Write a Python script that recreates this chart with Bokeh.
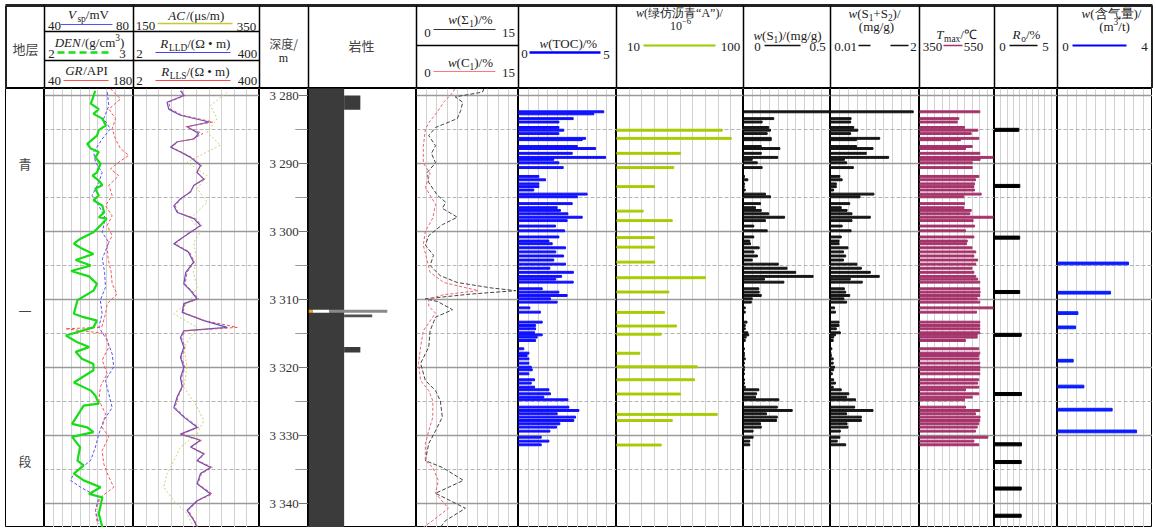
import numpy as np
from bokeh.plotting import figure
from bokeh.layouts import row, column
from bokeh.models import Range1d, Grid, FixedTicker, LogScale, Spacer
from bokeh.core.properties import value
from bokeh.embed import file_html
from bokeh.resources import INLINE

SERIF = "Liberation Serif"
CJK = "Noto Sans CJK SC"

# ---------------- data ----------------
# track 1
vsp_depth = [3279.5, 3281.5, 3283.4, 3284.9, 3286.4, 3288.3, 3289.8, 3291.3, 3292.8, 3294.7, 3296.2, 3298.1, 3300.1, 3301.6, 3304.0, 3306.0, 3308.2, 3310.1, 3312.1, 3314.1, 3316.0, 3318.0, 3319.9, 3321.9, 3323.9, 3325.9, 3327.8, 3329.8, 3331.7, 3333.7, 3335.6, 3336.6, 3337.6, 3339.1, 3341.0, 3343.0]
vsp = [68.2, 68.9, 66.6, 69.6, 65.9, 62.1, 62.9, 65.9, 64.4, 61.4, 64.4, 67.4, 65.9, 68.9, 66.0, 67.0, 67.4, 65.1, 65.9, 64.4, 68.2, 70.4, 71.1, 67.4, 68.9, 70.4, 66.6, 64.4, 62.9, 60.7, 53.2, 51.7, 56.2, 64.4, 62.9, 64.4]

den_depth = [3279.3, 3280.5, 3281.2, 3282.0, 3282.7, 3283.4, 3284.4, 3285.1, 3285.9, 3287.1, 3287.8, 3288.3, 3289.1, 3290.0, 3291.3, 3291.8, 3292.5, 3293.2, 3293.7, 3294.7, 3295.4, 3296.2, 3297.2, 3297.9, 3298.1, 3299.1, 3300.1, 3301.1, 3301.8, 3302.5, 3303.3, 3304.2, 3305.0, 3305.8, 3306.6, 3307.7, 3308.7, 3310.1, 3312.1, 3312.6, 3313.1, 3314.1, 3315.3, 3316.3, 3317.0, 3317.7, 3318.7, 3319.5, 3320.4, 3322.2, 3323.4, 3324.1, 3325.3, 3325.6, 3328.3, 3328.8, 3329.5, 3330.2, 3331.7, 3333.7, 3334.4, 3335.6, 3336.6, 3337.6, 3338.6, 3339.1, 3341.5, 3343.5]
den = [2.57, 2.54, 2.52, 2.61, 2.55, 2.65, 2.69, 2.61, 2.59, 2.48, 2.52, 2.61, 2.57, 2.63, 2.59, 2.54, 2.61, 2.65, 2.57, 2.61, 2.55, 2.65, 2.67, 2.61, 2.70, 2.63, 2.55, 2.40, 2.33, 2.42, 2.55, 2.35, 2.52, 2.30, 2.50, 2.59, 2.55, 2.37, 2.33, 2.44, 2.59, 2.55, 2.24, 2.37, 2.50, 2.35, 2.42, 2.55, 2.55, 2.33, 2.52, 2.57, 2.61, 2.44, 2.31, 2.48, 2.55, 2.31, 2.40, 2.37, 2.44, 2.33, 2.44, 2.63, 2.50, 2.65, 2.61, 2.65]

gr_depth = [3279.0, 3280.5, 3282.0, 3283.4, 3284.9, 3286.4, 3287.8, 3288.8, 3289.8, 3290.8, 3291.8, 3293.2, 3294.7, 3296.2, 3297.7, 3299.1, 3300.6, 3302.1, 3304.0, 3306.0, 3307.7, 3309.2, 3310.6, 3312.1, 3314.1, 3314.3, 3315.0, 3317.0, 3318.9, 3320.9, 3322.8, 3324.8, 3326.8, 3328.8, 3330.2, 3332.2, 3334.2, 3336.1, 3337.6, 3339.1, 3341.0, 3343.0]
gr = [143.8, 159.5, 141.2, 151.7, 146.4, 151.7, 159.5, 172.6, 156.9, 143.8, 156.9, 141.2, 146.4, 136.0, 146.4, 138.6, 146.4, 138.6, 140.0, 145.0, 146.4, 154.3, 138.6, 136.0, 130.0, 73.0, 136.0, 141.2, 130.7, 138.6, 128.0, 125.4, 136.0, 130.7, 141.2, 130.7, 133.3, 141.2, 149.0, 128.0, 120.2, 123.0]

# track 2
ac_depth = [3279.5, 3281.5, 3283.4, 3285.4, 3287.3, 3289.8, 3291.8, 3293.7, 3295.7, 3298.1, 3300.1, 3301.6, 3304.0, 3306.0, 3308.2, 3310.1, 3312.1, 3314.1, 3317.0, 3319.9, 3322.9, 3325.8, 3327.8, 3329.8, 3331.7, 3333.7, 3335.6, 3337.6, 3339.6, 3341.5, 3343.5]
ac = [298.7, 272.0, 282.8, 267.0, 288.0, 235.0, 267.0, 251.0, 267.0, 240.5, 256.0, 245.7, 250.0, 245.0, 251.0, 240.5, 214.0, 251.0, 230.0, 235.0, 230.0, 251.0, 261.6, 251.0, 224.6, 214.0, 203.5, 198.0, 214.0, 235.0, 245.7]

rlld_depth = [3279.3, 3280.0, 3281.0, 3282.0, 3282.9, 3283.9, 3284.6, 3285.6, 3286.4, 3286.8, 3287.6, 3288.3, 3289.1, 3290.3, 3291.3, 3292.3, 3293.2, 3294.2, 3295.2, 3296.2, 3297.2, 3298.1, 3299.1, 3300.1, 3301.1, 3301.8, 3303.0, 3304.5, 3306.0, 3307.7, 3308.7, 3309.9, 3310.6, 3311.9, 3313.1, 3314.1, 3314.6, 3315.6, 3317.0, 3318.5, 3320.0, 3321.5, 3322.8, 3324.3, 3325.9, 3327.3, 3328.8, 3329.8, 3330.7, 3331.7, 3332.7, 3333.7, 3334.7, 3335.6, 3337.1, 3338.6, 3339.6, 3341.0, 3342.5, 3343.5]
rlld = [14.4, 16.6, 8.2, 8.8, 14.4, 48.0, 19.1, 31.0, 25.3, 12.6, 9.5, 14.4, 22.0, 33.4, 29.0, 38.4, 25.3, 22.0, 14.4, 10.9, 12.6, 25.3, 33.4, 22.0, 14.4, 10.9, 20.0, 25.0, 18.0, 16.6, 22.0, 29.0, 16.6, 15.5, 38.4, 103.0, 16.6, 14.4, 16.6, 14.4, 16.6, 14.4, 15.5, 12.6, 10.9, 16.6, 29.0, 14.4, 33.4, 22.0, 38.4, 29.0, 51.0, 33.4, 29.0, 51.0, 29.0, 19.1, 25.3, 29.0]
rlls = [15.0, 17.5, 8.8, 9.5, 15.5, 56.0, 18.0, 37.0, 24.0, 13.0, 10.0, 15.0, 23.0, 35.0, 28.0, 40.0, 26.0, 21.0, 15.0, 11.5, 13.0, 27.0, 35.0, 21.0, 15.0, 11.5, 21.0, 26.0, 19.0, 17.5, 23.0, 31.0, 17.5, 16.0, 40.0, 157.0, 17.5, 15.0, 17.5, 15.0, 17.5, 15.0, 16.0, 13.0, 11.5, 17.5, 31.0, 15.0, 35.0, 23.0, 40.0, 30.0, 55.0, 35.0, 30.0, 55.0, 30.0, 20.0, 26.0, 30.0]

# gas logging
sig_depth = [3279.0, 3279.5, 3280.2, 3281.0, 3282.2, 3283.4, 3284.7, 3285.9, 3287.4, 3288.5, 3289.9, 3291.3, 3292.8, 3294.7, 3295.7, 3296.6, 3297.9, 3299.0, 3300.6, 3302.0, 3303.5, 3305.0, 3306.5, 3307.5, 3308.3, 3308.7, 3309.2, 3309.9, 3310.3, 3311.5, 3312.6, 3314.6, 3317.0, 3319.4, 3321.9, 3323.4, 3324.9, 3327.3, 3329.3, 3331.2, 3333.7, 3334.7, 3336.6, 3338.5, 3340.7, 3342.5, 3343.5]
sig = [9.9, 9.7, 5.7, 6.8, 6.5, 6.0, 2.8, 1.8, 2.8, 2.2, 2.8, 1.6, 1.8, 3.1, 4.3, 3.8, 6.0, 3.8, 1.8, 1.3, 2.5, 2.0, 3.5, 6.0, 11.0, 14.6, 8.0, 1.3, 3.1, 5.3, 2.8, 2.0, 1.8, 0.6, 1.3, 2.8, 3.5, 3.8, 2.8, 1.8, 1.3, 3.8, 6.9, 2.8, 7.2, 4.3, 3.5]
c1_depth = [3279.0, 3279.5, 3281.0, 3282.5, 3284.0, 3285.0, 3287.5, 3289.9, 3291.5, 3293.5, 3296.0, 3298.0, 3300.0, 3302.0, 3304.0, 3306.0, 3307.5, 3308.7, 3309.3, 3309.9, 3311.0, 3312.0, 3314.6, 3317.0, 3319.4, 3321.9, 3323.4, 3324.9, 3327.3, 3329.3, 3331.2, 3333.7, 3334.7, 3336.6, 3338.5, 3340.7, 3342.5, 3343.5]
c1 = [5.6, 5.4, 4.0, 3.0, 1.8, 1.3, 1.0, 1.0, 2.0, 1.3, 2.8, 2.4, 1.3, 1.0, 1.5, 2.0, 4.0, 9.1, 4.0, 1.8, 1.8, 2.8, 1.0, 0.6, 0.3, 0.6, 1.8, 2.4, 2.4, 1.8, 1.3, 1.3, 2.4, 3.2, 2.8, 4.7, 2.4, 1.0]

# core samples (shared depths)
nan = float("nan")
sample_depth = [3282.4, 3282.7, 3283.4, 3283.9, 3284.7, 3285.1, 3285.6, 3286.3, 3286.5, 3287.5, 3287.8, 3288.5, 3289.1, 3289.4, 3289.9, 3290.6, 3291.9, 3292.4, 3293.0, 3293.4, 3293.9, 3294.5, 3294.9, 3295.9, 3296.5, 3296.9, 3297.4, 3297.9, 3298.4, 3299.2, 3299.9, 3300.8, 3301.4, 3301.8,
                3302.4, 3303.0, 3303.6, 3304.2, 3304.8, 3305.4, 3306.0, 3306.6, 3307.0,
                3307.45, 3308.43, 3308.92, 3309.41, 3309.90, 3310.39, 3311.23, 3311.86, 3313.33, 3313.82, 3314.31, 3314.90, 3315.20, 3315.54, 3316.03, 3317.25, 3317.89, 3318.24, 3318.73, 3319.36, 3319.95, 3320.34, 3320.93, 3321.81, 3322.30, 3322.89, 3323.28, 3323.87, 3324.36, 3324.75, 3325.83, 3326.32, 3326.81, 3327.30, 3327.79, 3328.28, 3328.77, 3329.36, 3330.25, 3330.83, 3331.37]
toc = [4.35, 3.84, 2.79, 2.06, 2.06, 2.31, 2.06, 3.42, 3.25, 3.0, 3.93, 2.74, 4.44, 1.80, 2.06, 2.28, 1.04, 1.38, 1.04, 1.04, 0.78, 3.5, 3.0, 2.74, 1.97, 2.14, 2.52, 3.25, 2.48, 1.89, 2.35, 2.06, 1.55, 1.72,
       2.4, 1.9, 2.3, 1.8, 2.4, 1.6, 2.8, 2.2, 1.9,
       2.79, 1.21, 2.06, 2.48, 1.63, 1.97, 0.58, 1.12, 1.21, 0.87, 0.87, 0.82, 1.21, 0.95, 0.87, 0.27, 0.53, 0.44, 0.53, 0.53, 0.65, 0.70, 0.53, 0.82, 0.65, 0.82, 1.55, 1.63, 1.29, 2.52, 2.57, 3.08, 1.97, 2.91, 2.82, 2.11, 1.94, 1.60, 1.16, 1.55, 1.16]
s1 = [0.5, nan, 0.174, 0.107, 0.145, 0.155, 0.136, 0.159, 0.159, 0.102, 0.209, 0.102, 0.197, 0.05, 0.079, 0.107, 0.006, 0.025, 0.006, 0.004, 0.01, 0.126, 0.155, 0.098, 0.069, 0.102, 0.145, 0.236, 0.126, 0.059, 0.136, 0.059, 0.036, 0.04,
      0.09, 0.06, 0.08, 0.05, 0.2, 0.25, 0.3, 0.4, 0.12,
      0.232, 0.088, 0.09, 0.102, 0.05, 0.045, 0.01, 0.01, 0.02, 0.01, 0.01, 0.025, 0.03, 0.015, 0.01, 0.005, 0.005, 0.005, 0.01, 0.005, 0.005, 0.005, 0.005, 0.005, 0.005, 0.01, 0.088, 0.075, 0.069, 0.203, 0.194, 0.28, 0.132, 0.194, 0.19, 0.098, 0.102, 0.055, 0.055, 0.036, 0.036]
s1s2 = [1.86, nan, 0.47, 0.46, 0.53, 0.62, 0.46, 1.11, 0.59, 0.59, 0.96, 0.81, 1.31, 0.32, 0.37, 0.52, 0.22, 0.27, 0.14, 0.14, 0.08, 0.98, 0.67, 0.44, 0.25, 0.38, 0.49, 0.90, 0.49, 0.27, 0.47, 0.25, 0.20, 0.20,
        0.4, 0.3, 0.35, 0.3, 0.6, 0.7, 0.9, 1.1, 0.45,
        0.72, 0.32, 0.35, 0.44, 0.31, 0.37, 0.10, 0.12, 0.20, 0.20, 0.14, 0.23, 0.12, 0.08, 0.07, 0.04, 0.02, 0.03, 0.07, 0.07, 0.10, 0.08, 0.05, 0.08, 0.12, 0.07, 0.25, 0.42, 0.37, 0.57, 0.55, 0.96, 0.37, 0.70, 0.70, 0.38, 0.40, 0.23, 0.22, 0.16, 0.35]
tmax = [510.8, nan, 454.9, 450.5, 470.0, 505.5, 487.9, 508.2, 459.3, 490.5, 472.7, 510.8, 546.5, 511.5, 490.5, 490.5, 508.2, 499.3, 496.8, 495.0, 496.8, 514.5, 468.2, 470.0, 468.2, 487.9, 484.3, 546.5, 493.0, 496.8, 472.7, 495.0, 477.3, 475.5,
        490.0, 500.0, 495.0, 505.0, 500.0, 490.0, 495.0, 500.0, 505.0,
        510.8, 510.8, 511.5, 510.8, 503.8, 510.8, 546.5, 502.0, 510.8, 510.8, 510.8, 510.8, 503.8, 503.8, 472.7, 508.0, 510.8, 508.0, 508.0, 510.8, 510.8, 510.8, 510.8, 508.0, 505.0, 508.0, 472.7, 508.0, 490.5, 470.0, 472.7, 510.8, 499.3, 511.5, 510.8, 508.0, 503.8, 499.3, 532.2, 495.0, 508.0]

a_depth = [3285.1, 3286.3, 3288.5, 3290.6, 3293.4, 3297.0, 3298.4, 3300.9, 3302.3, 3304.5, 3306.8, 3308.9, 3311.9, 3313.9, 3315.1, 3317.9, 3319.9, 3321.8, 3323.9, 3326.9, 3327.8, 3331.4]
bitumen_a = [84.9, 91.3, 55.4, 50.6, 36.9, 28.9, 49.5, 36.9, 37.0, 37.0, 73.0, 47.1, 44.0, 52.5, 41.7, 26.5, 67.2, 65.3, 55.4, 81.4, 49.5, 41.7]

ro_depth = [3285.05, 3293.3, 3300.9, 3308.9, 3315.2, 3323.9, 3331.3, 3333.9, 3337.8, 3341.8]
ro = [1.93, 2.01, 2.0, 2.0, 2.12, 2.14, 2.14, 2.12, 2.12, 2.12]

gas_depth = [3304.7, 3309.0, 3312.0, 3314.1, 3319.0, 3322.8, 3326.2, 3329.4]
gas = [2.99, 2.23, 0.86, 0.76, 0.66, 1.11, 2.30, 3.33]

# lithology intervals (fraction of track width)
litho_top = [3278.9, 3280.0, 3311.5, 3311.5, 3311.5, 3312.2, 3317.0]
litho_bot = [3343.6, 3282.1, 3311.95, 3311.95, 3311.95, 3312.6, 3317.8]
litho_left = [0.0, 0.33, 0.0, 0.04, 0.19, 0.33, 0.33]
litho_right = [0.33, 0.48, 0.04, 0.19, 0.73, 0.59, 0.48]
litho_color = ["#3b3b3b", "#3b3b3b", "#f0a020", "#ffffff", "#8a8a8a", "#505050", "#3b3b3b"]

strat_text = ["青", "一", "段"]
strat_depth = [3290.0, 3311.6, 3333.7]

depth_major = [3280, 3290, 3300, 3310, 3320, 3330, 3340]
depth_labels = ["3 280", "3 290", "3 300", "3 310", "3 320", "3 330", "3 340"]
depth_minor = [3285, 3295, 3305, 3315, 3325, 3335]

# ---------------- layout ----------------
H = 439
yr = Range1d(start=3343.53, end=3278.97)


def make(width, xr, grid=True, **kw):
    p = figure(width=width, height=H, x_range=xr, y_range=yr, toolbar_location=None,
               output_backend="svg", min_border=0, x_axis_location=None, y_axis_location=None, **kw)
    p.grid.visible = False
    p.outline_line_color = "black"
    p.outline_line_width = 1
    p.background_fill_color = "white"
    p.border_fill_color = "white"
    if grid:
        xs = list(np.linspace(xr.start, xr.end, 11)[1:-1])
        p.add_layout(Grid(dimension=0, ticker=FixedTicker(ticks=xs), grid_line_color="#d2d2d2", grid_line_width=1))
        p.add_layout(Grid(dimension=1, ticker=FixedTicker(ticks=depth_minor), grid_line_color="#b4b4b4",
                          grid_line_width=1, grid_line_dash="4 2"))
        p.add_layout(Grid(dimension=1, ticker=FixedTicker(ticks=depth_major), grid_line_color="#9a9a9a",
                          grid_line_width=1.5))
    return p


# stratigraphy column
p_strat = make(39, Range1d(0, 1), grid=False)
p_strat.text(x=[0.5] * len(strat_text), y=strat_depth, text=strat_text, text_font=value(CJK),
             text_font_size="13px", text_align="center", text_baseline="middle", text_color="#444444")

# track 1
p1 = make(89, Range1d(40, 80))
p1.extra_x_ranges = {"den": Range1d(2, 3), "gr": Range1d(40, 180)}
p1.line(vsp, vsp_depth, line_color="#5050ff", line_width=1, line_dash="3 2")
p1.line(gr, gr_depth, line_color="#ff5050", line_width=1, line_dash="3 2", x_range_name="gr")
p1.line(den, den_depth, line_color="#16dd16", line_width=2.2, x_range_name="den")

# track 2
p2 = make(126, Range1d(150, 350))
p2.extra_x_ranges = {"r": Range1d(2, 400)}
p2.extra_x_scales = {"r": LogScale()}
p2.line(ac, ac_depth, line_color="#c8d27a", line_width=1, line_dash="2 2")
p2.line(rlld, rlld_depth, line_color="#5a4fd0", line_width=1.2, x_range_name="r")
p2.line(rlls, rlld_depth, line_color="#e85050", line_width=1, line_dash="3 2", x_range_name="r")

# depth column
p_depth = make(49, Range1d(0, 1), grid=False)
p_depth.text(x=[0.8] * len(depth_major), y=depth_major, text=depth_labels, text_font=value(SERIF),
             text_font_size="13px", text_align="right", text_baseline="middle", text_color="#333333")
p_depth.segment(x0=[0.8] * len(depth_major), x1=[1.0] * len(depth_major), y0=depth_major, y1=depth_major,
                line_color="#777777", line_width=1)
p_depth.segment(x0=[0.73] * len(depth_minor), x1=[0.98] * len(depth_minor), y0=depth_minor, y1=depth_minor,
                line_color="#999999", line_width=1)

# lithology
p_lith = make(108, Range1d(0, 1), grid=False)
p_lith.quad(left=litho_left, right=litho_right, top=litho_top, bottom=litho_bot, fill_color=litho_color,
            line_color=None)

# gas logging
p_gas = make(102, Range1d(0, 15))
p_gas.line(sig, sig_depth, line_color="#444444", line_width=1, line_dash="4 2")
p_gas.line(c1, c1_depth, line_color="#f06070", line_width=1, line_dash="3 2")

BH = 0.28
p_toc = make(98, Range1d(0, 5))
p_toc.hbar(y=sample_depth, left=0, right=toc, height=BH, color="#1010ff")

p_a = make(127, Range1d(10, 100))
p_a.hbar(y=a_depth, left=10, right=bitumen_a, height=BH, color="#a6cc00")

p_s1 = make(87, Range1d(0, 0.5))
p_s1.hbar(y=sample_depth, left=0, right=s1, height=BH, color="#151515")

p_s12 = make(89, Range1d(0.01, 2))
p_s12.hbar(y=sample_depth, left=0.01, right=s1s2, height=BH, color="#151515")

p_tmax = make(75, Range1d(350, 550))
p_tmax.hbar(y=sample_depth, left=350, right=tmax, height=BH, color="#a5336a")

p_ro = make(63, Range1d(0, 5))
p_ro.hbar(y=ro_depth, left=0, right=ro, height=0.45, color="#000000")

p_gc = make(95, Range1d(0, 4))
p_gc.hbar(y=gas_depth, left=0, right=gas, height=0.4, color="#0a1eff")

tracks = row(Spacer(width=5, height=H), p_strat, p1, p2, p_depth, p_lith, p_gas, p_toc, p_a, p_s1, p_s12,
             p_tmax, p_ro, p_gc, Spacer(width=4, height=H))

bottom = figure(width=1147, height=3, toolbar_location=None, output_backend="svg", min_border=0,
                x_axis_location=None, y_axis_location=None, x_range=Range1d(0, 1), y_range=Range1d(0, 1))
bottom.grid.visible = False
bottom.outline_line_color = None
bottom.background_fill_color = "#222222"
bottom.border_fill_color = "#222222"
bottom_row = row(Spacer(width=5, height=3), bottom, Spacer(width=4, height=3))

# ---------------- header ----------------
hdr = figure(width=1156, height=88, x_range=Range1d(0, 1156), y_range=Range1d(88, 0), toolbar_location=None,
             output_backend="svg", min_border=0, x_axis_location=None, y_axis_location=None)
hdr.grid.visible = False
hdr.outline_line_color = None
hdr.background_fill_color = "white"
hdr.border_fill_color = "white"

TW = {' ': .25, '(': .333, ')': .333, '/': .278, '%': .833, '+': .564, '.': .25, '•': .35, '·': .25, '−': .564,
      '-': .333, 'A': .722, 'C': .667, 'D': .722, 'E': .611, 'G': .722, 'I': .333, 'L': .611, 'N': .722,
      'O': .722, 'P': .556, 'R': .667, 'S': .556, 'T': .611, 'V': .722, 'a': .444, 'c': .444, 'g': .5,
      'm': .778, 'o': .5, 'p': .5, 's': .389, 't': .278, 'x': .5, 'w': .667, 'μ': .576, 'Ω': .768,
      'Σ': .6, '℃': 1.0, '“': 0.45, '”': 0.45}


def tw(s, size):
    return sum(TW.get(c, 0.5 if ord(c) < 128 else 1.0) for c in s) * size


def rich(parts, cx, cy, size=13, color="#222222"):
    sizes, widths = [], []
    for t, k in parts:
        s = size * 0.72 if k in ("sub", "sup") else size
        sizes.append(s)
        widths.append(tw(t, s))
    x = cx - sum(widths) / 2
    for (t, k), s, w in zip(parts, sizes, widths):
        dy = size * 0.32 if k == "sub" else (-size * 0.38 if k == "sup" else 0)
        hdr.text(x=[x], y=[cy + dy], text=[t], text_font=value(SERIF), text_font_size=f"{s:.1f}px",
                 text_font_style="italic" if k == "i" else "normal", text_align="left",
                 text_baseline="middle", text_color=color)
        x += w


def lab(t, cx, cy, size=13, font=SERIF, color="#222222"):
    hdr.text(x=[cx], y=[cy], text=[t], text_font=value(font), text_font_size=f"{size}px", text_align="center",
             text_baseline="middle", text_color=color)


def sample(x0, x1, y, color, width=1.2, dash="solid"):
    hdr.segment(x0=[x0], x1=[x1], y0=[y], y1=[y], line_color=color, line_width=width, line_dash=dash)


# frame and separators
hdr.segment(x0=[5], x1=[1152], y0=[5], y1=[5], line_color="#222222", line_width=3)
hdr.segment(x0=[5], x1=[1152], y0=[87.5], y1=[87.5], line_color="black", line_width=2)
hdr.segment(x0=[5.5, 1151.5], x1=[5.5, 1151.5], y0=[5, 5], y1=[88, 88], line_color="#222222", line_width=2)
for xv in [44, 133, 259, 308, 416, 518, 616, 743, 830, 919, 994, 1057]:
    hdr.segment(x0=[xv], x1=[xv], y0=[5], y1=[88], line_color="black", line_width=1.5)
for yv in [31, 60]:
    hdr.segment(x0=[44], x1=[259], y0=[yv], y1=[yv], line_color="black", line_width=1.5)
hdr.segment(x0=[416], x1=[518], y0=[45], y1=[45], line_color="black", line_width=1.5)

lab("地层", 25, 48, 13, CJK, "#444444")
# track 1 header
rich([("V", "i"), ("sp", "sub"), ("/mV", "n")], 88, 14)
lab("40", 54, 25); lab("80", 122, 25); sample(60, 112, 24, "#5050ff")
rich([("DEN", "i"), ("/(g/cm", "n"), ("3", "sup"), (")", "n")], 89, 42)
lab("2", 51, 53); lab("3", 122, 53); sample(57, 110, 52, "#16dd16", 2.5, "7 4")
rich([("GR", "i"), ("/API", "n")], 86, 70)
lab("40", 54, 80); lab("180", 122, 80); sample(63, 108, 80, "#ff5050")
# track 2 header
rich([("AC", "i"), ("/(μs/m)", "n")], 196, 15)
lab("150", 145, 25); lab("350", 246, 26); sample(157, 232, 23, "#c8c832", 1.5)
rich([("R", "i"), ("LLD", "sub"), ("/(Ω • m)", "n")], 195, 43)
lab("2", 139, 53); lab("400", 247, 53); sample(155, 230, 52, "#4444ee")
rich([("R", "i"), ("LLS", "sub"), ("/(Ω • m)", "n")], 195, 71)
lab("2", 139, 80); lab("400", 247, 80); sample(155, 230, 80, "#ff4444")
# depth, lithology
lab("深度/", 283, 43, 12, CJK, "#444444")
lab("m", 283, 57, 12)
lab("岩性", 361, 45, 13, CJK, "#444444")
# gas logging
rich([("w", "i"), ("(Σ", "n"), ("1", "sub"), (")/%", "n")], 470, 19)
lab("0", 427, 32); lab("15", 508, 32); sample(433, 495, 29, "#333333")
rich([("w", "i"), ("(C", "n"), ("1", "sub"), (")/%", "n")], 470, 62)
lab("0", 427, 72); lab("15", 508, 72); sample(433, 495, 71, "#ff7777")
# TOC
rich([("w", "i"), ("(TOC)/%", "n")], 568, 43)
lab("0", 524, 53); lab("5", 606, 54); sample(529, 600, 52, "#0000ff", 2.5)
# chloroform bitumen A
rich([("w", "i"), ("(绿仿沥青“A”)/", "n")], 679, 12, 12)
rich([("10", "n"), ("−6", "sup")], 680, 25, 12)
lab("10", 633, 46); lab("100", 730, 46); sample(643, 715, 45, "#9acd00", 2)
# S1
rich([("w", "i"), ("(S", "n"), ("1", "sub"), (")/(mg/g)", "n")], 787, 35)
lab("0", 757, 46); lab("0.5", 817, 46); sample(764, 800, 45, "#111111", 1.5)
# S1+S2
rich([("w", "i"), ("(S", "n"), ("1", "sub"), ("+S", "n"), ("2", "sub"), (")/", "n")], 874, 13)
lab("(mg/g)", 876, 26)
lab("0.01", 845, 46); lab("2", 913, 46)
sample(858, 870, 45, "#111111", 1.5); sample(890, 908, 45, "#111111", 1.5)
# Tmax
rich([("T", "i"), ("max", "sub"), ("/℃", "n")], 956, 34)
lab("350", 932, 46); lab("550", 973, 46); sample(943, 962, 45, "#a5336a", 1.5)
# Ro
rich([("R", "i"), ("o", "sub"), ("/%", "n")], 1026, 34)
lab("0", 1002, 46); lab("5", 1045, 46); sample(1009, 1037, 45, "#111111", 1.5)
# gas content
rich([("w", "i"), ("(含气量)/", "n")], 1111, 13)
rich([("(m", "n"), ("3", "sup"), ("/t)", "n")], 1114, 26)
lab("0", 1065, 46); lab("4", 1144, 46); sample(1072, 1126, 45, "#0000ff", 2)

layout = column(hdr, tracks, bottom_row)
open("out.html", "w").write(file_html(layout, INLINE))
